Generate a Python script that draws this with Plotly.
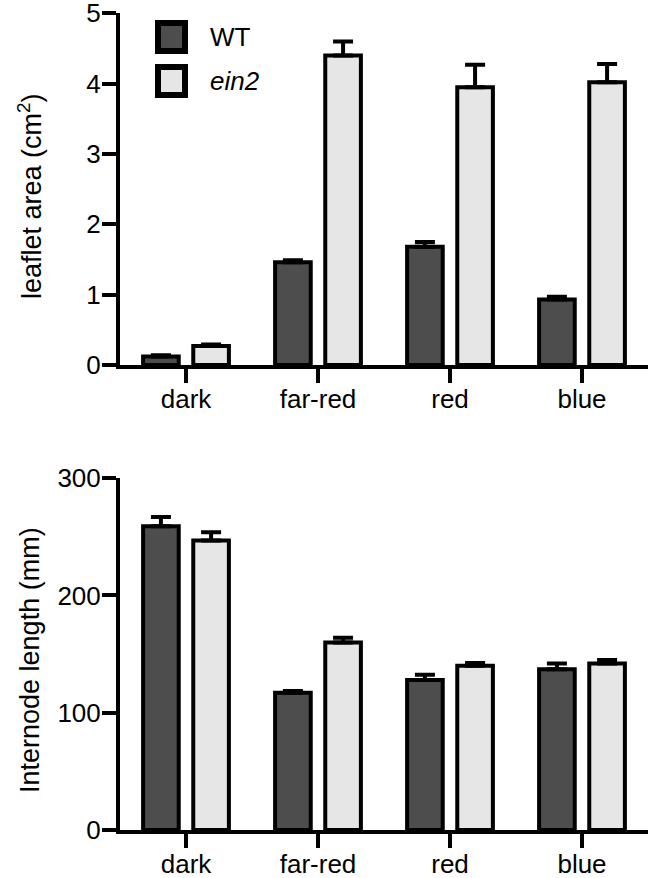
import plotly.graph_objects as go
from plotly.subplots import make_subplots

categories = ["dark", "far-red", "red", "blue"]
series_names = ["WT", "ein2"]

leaf_wt = [0.12, 1.46, 1.68, 0.93]
leaf_wt_err = [0.02, 0.03, 0.07, 0.04]
leaf_ein2 = [0.27, 4.40, 3.95, 4.02]
leaf_ein2_err = [0.02, 0.20, 0.32, 0.26]

len_wt = [259, 117, 128, 137]
len_wt_err = [8, 1.5, 4.5, 5]
len_ein2 = [247, 160, 140, 142]
len_ein2_err = [7, 4, 2.5, 3]

leaf_ticks = [0, 1, 2, 3, 4, 5]
len_ticks = [0, 100, 200, 300]

colors = {"WT": "#4d4d4d", "ein2": "#e6e6e6"}
FONT = "Liberation Sans, Arial, sans-serif"

W, H = 651, 878
ML, MR, MT, MB = 120, 3, 13, 48
plot_h = H - MT - MB

def py(pix):
    return (H - MB - pix) / plot_h

def px(pix):
    return (pix - ML) / (W - ML - MR)

fig = make_subplots(rows=2, cols=1, vertical_spacing=0.0)

def add_bars(row, wt, wte, e2, e2e):
    for name, vals, errs, off in [("WT", wt, wte, -0.325), ("ein2", e2, e2e, 0.055)]:
        fig.add_trace(go.Bar(
            x=categories, y=vals, name=name, showlegend=False,
            width=0.27, offset=off,
            marker=dict(color=colors[name], line=dict(color="black", width=4)),
            error_y=dict(type="data", array=errs, arrayminus=[0]*len(errs), symmetric=False,
                         color="black", thickness=4, width=10),
        ), row=row, col=1)

add_bars(1, leaf_wt, leaf_wt_err, leaf_ein2, leaf_ein2_err)
add_bars(2, len_wt, len_wt_err, len_ein2, len_ein2_err)

axis_common = dict(showline=True, linecolor="black", linewidth=4, ticks="outside",
                   ticklen=14, tickwidth=4, tickcolor="black", showgrid=False, zeroline=False,
                   ticklabeloverflow="allow",
                   tickfont=dict(family=FONT, size=26, color="black"))

fig.update_xaxes(range=[-0.5, 3.5], ticklabelstandoff=-6, **axis_common)
fig.update_yaxes(ticklabelstandoff=-4, **axis_common)

fig.update_layout(
    xaxis=dict(domain=[0, 1], anchor="y"),
    yaxis=dict(domain=[py(365), 1.0], range=[0, 5.004], tickvals=leaf_ticks),
    xaxis2=dict(domain=[0, 1], anchor="y2"),
    yaxis2=dict(domain=[0, py(478)], range=[0, 300.2], tickvals=len_ticks),
    barmode="overlay",
    width=W, height=H,
    margin=dict(l=ML, r=MR, t=MT, b=MB, autoexpand=False),
    plot_bgcolor="white", paper_bgcolor="white",
    font=dict(family=FONT, size=26, color="black"),
)

# y-axis titles
for txt, cy in [("leaflet area (cm<sup>2</sup>)", 196), ("Internode length (mm)", 660)]:
    fig.add_annotation(text=txt, textangle=-90, xref="paper", yref="paper",
                       x=px(30), y=py(cy), showarrow=False,
                       xanchor="center", yanchor="middle",
                       font=dict(family=FONT, size=27, color="black"))

# legend
for name, cy in [("WT", 37), ("ein2", 81)]:
    fig.add_shape(type="rect", xref="paper", yref="paper",
                  x0=px(158), x1=px(185), y0=py(cy + 14), y1=py(cy - 14),
                  fillcolor=colors[name], line=dict(color="black", width=6))
    label = "<i>ein2</i>" if name == "ein2" else name
    fig.add_annotation(text=label, xref="paper", yref="paper", x=px(208), y=py(cy),
                       xanchor="left", yanchor="middle", showarrow=False,
                       font=dict(family=FONT, size=26, color="black"))

fig.write_html("out.html", config={"displayModeBar": False},
               post_script="document.body.style.margin='0px';document.body.style.overflow='hidden';")
